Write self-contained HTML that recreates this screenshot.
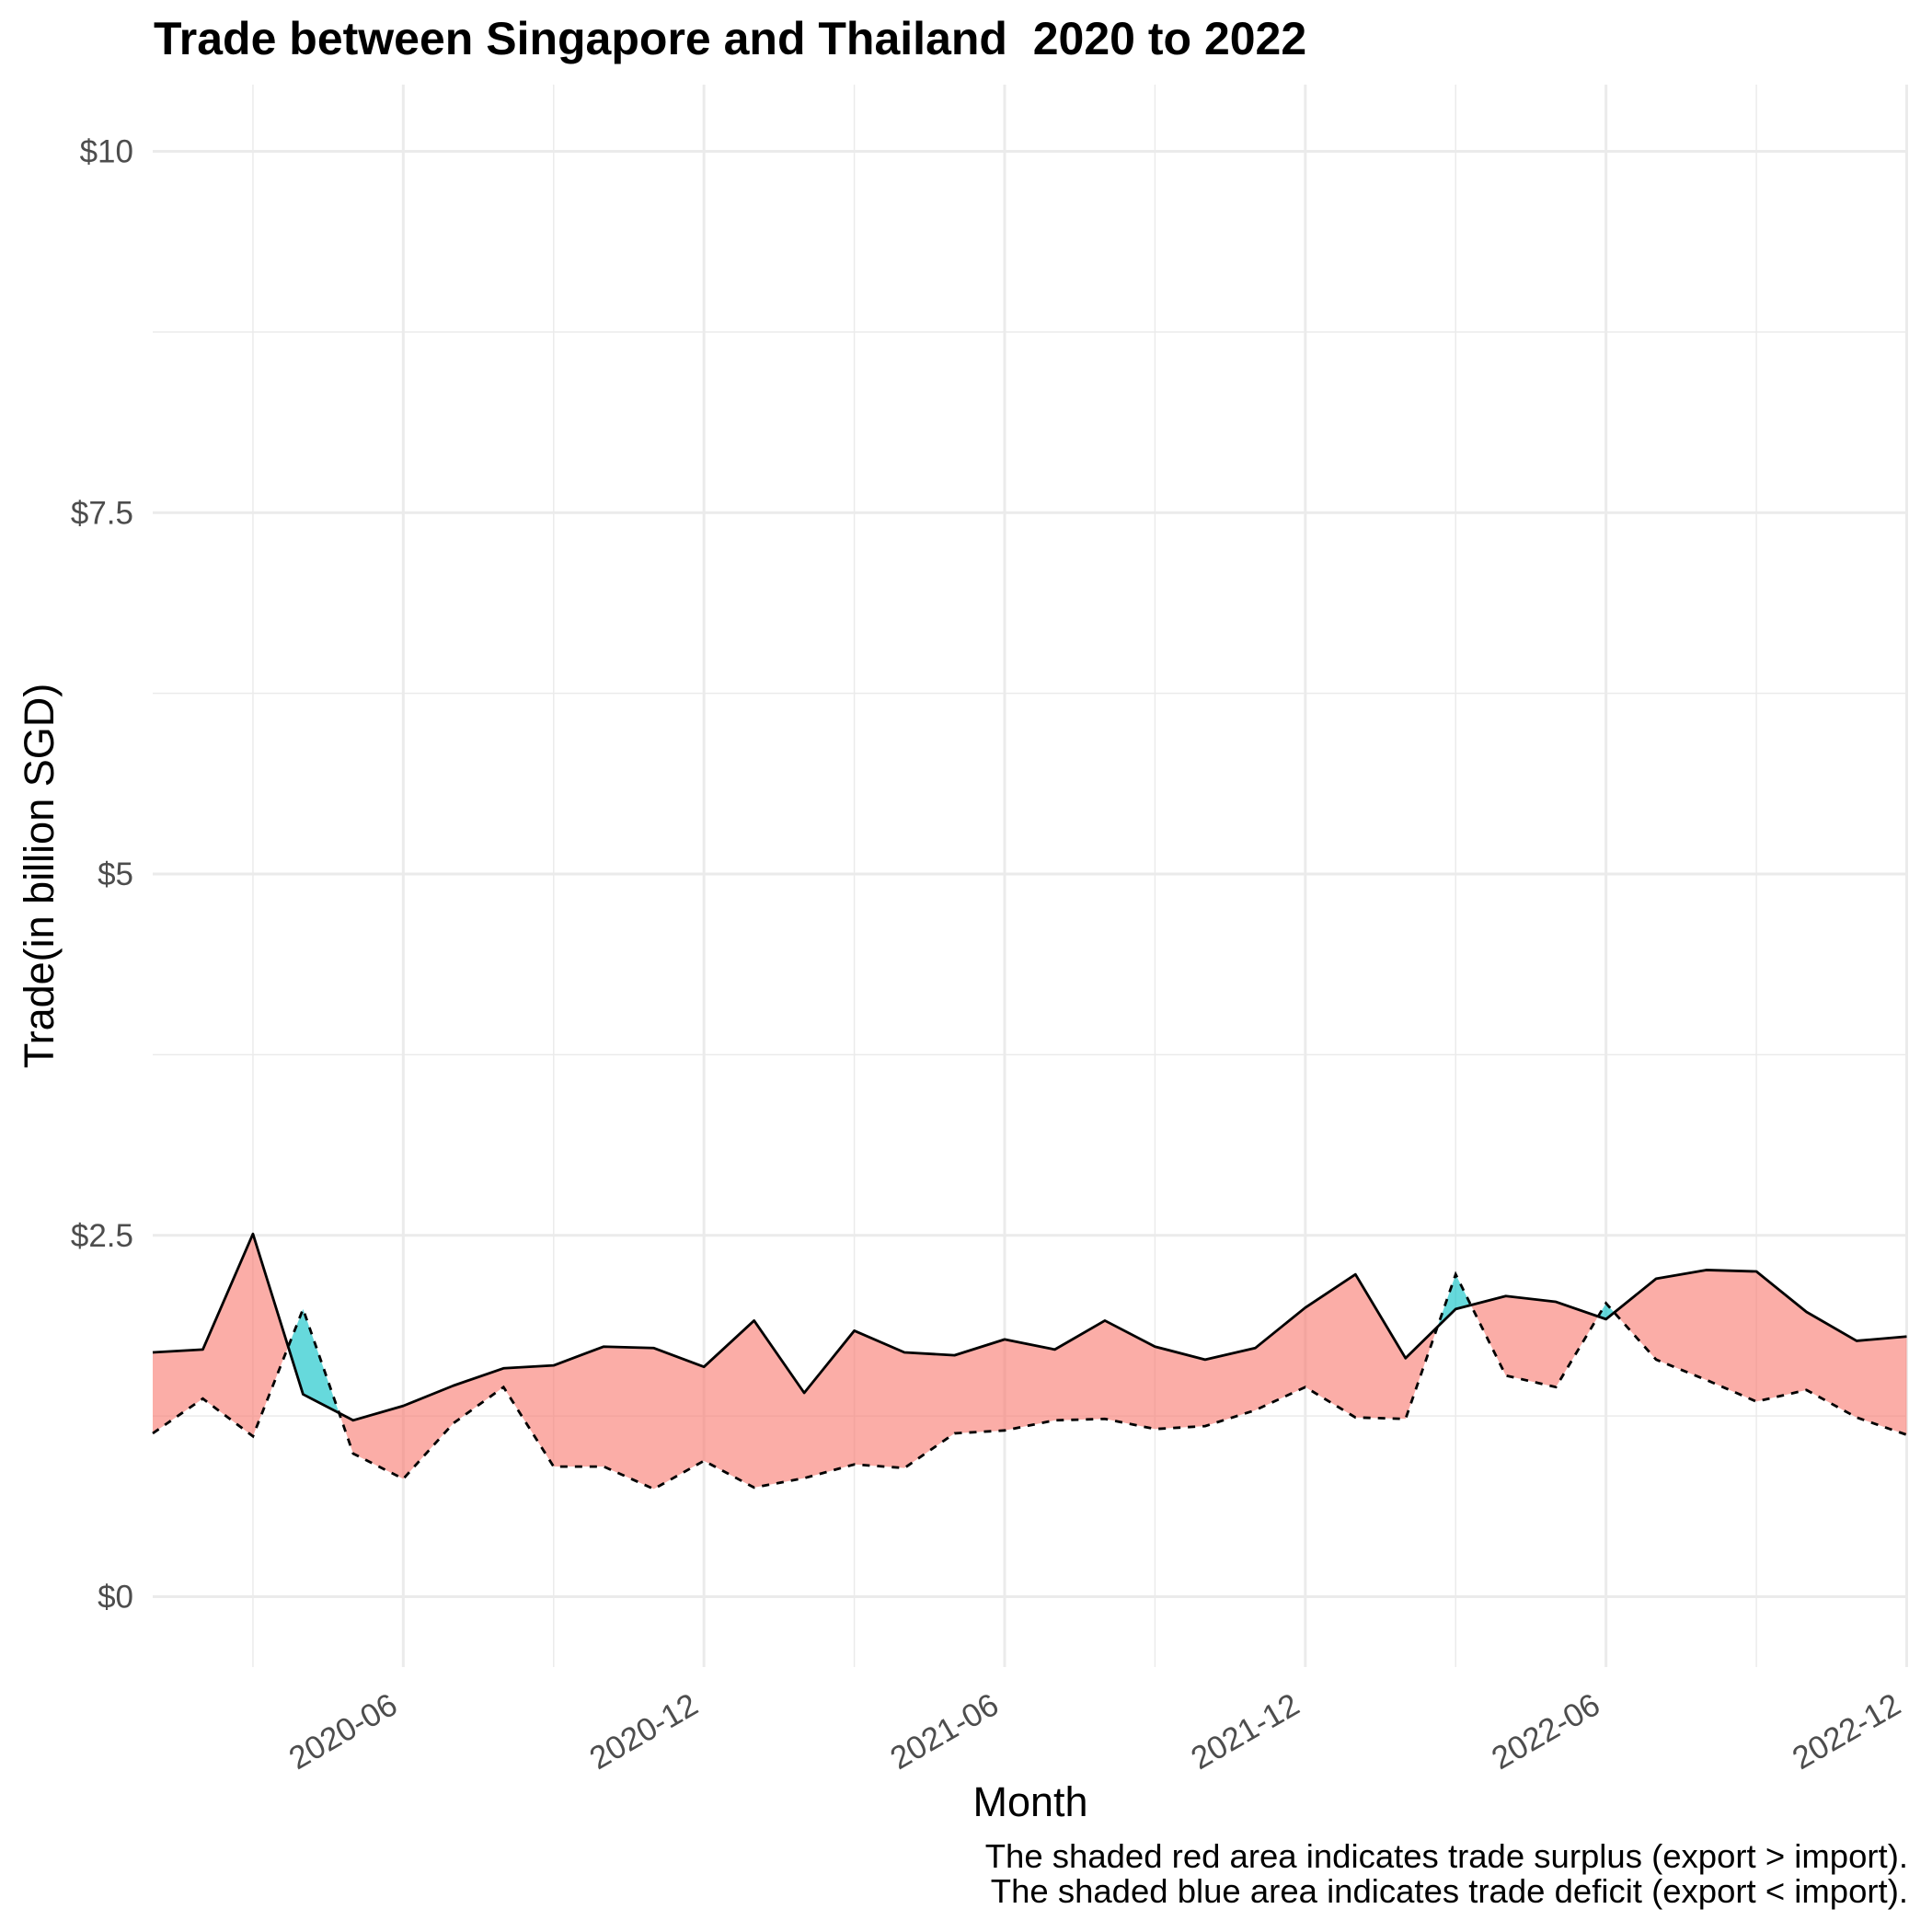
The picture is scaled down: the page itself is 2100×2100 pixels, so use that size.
<!DOCTYPE html>
<html><head><meta charset="utf-8"><style>
html,body{margin:0;padding:0;background:#fff}
svg{display:block;font-family:"Liberation Sans",Arial,sans-serif}
</style></head><body>
<svg id="chart" width="2100" height="2100" viewBox="0 0 2100 2100" xmlns="http://www.w3.org/2000/svg">
<rect width="2100" height="2100" fill="#fff"/>
<text x="167" y="59" font-size="50" font-weight="bold" fill="#000" xml:space="preserve" style="white-space:pre">Trade between Singapore and Thailand  2020 to 2022</text>
<g id="grid"></g>
<g id="areas"></g>
<g id="lines"></g>
<g id="yticks"></g>
<g id="xticks"></g>
<text x="1120" y="1974" font-size="45" text-anchor="middle" fill="#000">Month</text>
<text transform="translate(58,952) rotate(-90)" font-size="45" text-anchor="middle" fill="#000">Trade(in billion SGD)</text>
<text x="2074" y="2030" font-size="36.5" text-anchor="end" fill="#000">The shaded red area indicates trade surplus (export &gt; import).</text>
<text x="2074" y="2068" font-size="36.5" text-anchor="end" fill="#000">The shaded blue area indicates trade deficit (export &lt; import).</text>
</svg>
<script>
const exportVals = [1.69,1.71,2.51,1.40,1.22,1.32,1.46,1.58,1.60,1.73,1.72,1.59,1.91,1.41,1.84,1.69,1.67,1.78,1.71,1.91,1.73,1.64,1.72,2.00,2.23,1.65,1.99,2.08,2.04,1.92,2.20,2.26,2.25,1.97,1.77,1.80];
const importVals = [1.13,1.37,1.11,1.99,0.99,0.815,1.20,1.45,0.90,0.90,0.745,0.94,0.755,0.82,0.915,0.89,1.13,1.15,1.22,1.23,1.16,1.18,1.29,1.45,1.24,1.23,2.23,1.53,1.45,2.03,1.64,1.50,1.35,1.43,1.24,1.12];
const yTickVals = [0,2.5,5,7.5,10];
const yTickLabels = ['$0','$2.5','$5','$7.5','$10'];
const yMinorVals = [1.25,3.75,6.25,8.75];
const xTickIdx = [5,11,17,23,29,35];
const xTickLabels = ['2020-06','2020-12','2021-06','2021-12','2022-06','2022-12'];
const xMinorIdx = [2,8,14,20,26,32];

const NS='http://www.w3.org/2000/svg';
const L=166,R=2074,T=92,B=1812;
const xS=i=>166+i*(2072.5-166)/35;
const yS=v=>1735.5-v*157.1;
function mk(tag,parent,attrs){const e=document.createElementNS(NS,tag);for(const k in attrs)e.setAttribute(k,attrs[k]);parent.appendChild(e);return e;}
const grid=document.getElementById('grid');
yMinorVals.forEach(v=>{const e=mk('line',grid,{x1:L,x2:R,y1:yS(v),y2:yS(v),stroke:'#ebebeb','stroke-width':1.5});

});
xMinorIdx.forEach(i=>{const e=mk('line',grid,{x1:xS(i),x2:xS(i),y1:T,y2:B,stroke:'#ebebeb','stroke-width':1.5});

});
yTickVals.forEach(v=>{const e=mk('line',grid,{x1:L,x2:R,y1:yS(v),y2:yS(v),stroke:'#ebebeb','stroke-width':3});

});
xTickIdx.forEach(i=>{const e=mk('line',grid,{x1:xS(i),x2:xS(i),y1:T,y2:B,stroke:'#ebebeb','stroke-width':3});

});
const yt=document.getElementById('yticks');
yTickVals.forEach((v,k)=>{const e=mk('text',yt,{x:145,y:yS(v)+12,'font-size':35,'text-anchor':'end',fill:'#4d4d4d'});e.textContent=yTickLabels[k];

});
const xt=document.getElementById('xticks');
xTickIdx.forEach((i,k)=>{const x=xS(i)-4,y=1860;const e=mk('text',xt,{x:x,y:y,'font-size':35,'text-anchor':'end',fill:'#4d4d4d',transform:`rotate(-30 ${x} ${y})`});e.textContent=xTickLabels[k];

});
const areas=document.getElementById('areas');
const runs=[];
let cur=null;
function startRun(pos,x,ye,yi){cur={pos:pos,top:[[x,ye]],bot:[[x,yi]]};runs.push(cur);}
{
  const d0=exportVals[0]-importVals[0];
  startRun(d0>=0,xS(0),yS(exportVals[0]),yS(importVals[0]));
}
for(let i=0;i<exportVals.length-1;i++){
  const e0=exportVals[i],e1=exportVals[i+1],m0=importVals[i],m1=importVals[i+1];
  const d0=e0-m0,d1=e1-m1;
  const x0=xS(i),x1=xS(i+1);
  if(d0*d1<0){
    const t=d0/(d0-d1);const xc=x0+t*(x1-x0);const vc=e0+t*(e1-e0);
    cur.top.push([xc,yS(vc)]);cur.bot.push([xc,yS(vc)]);
    startRun(d1>0,xc,yS(vc),yS(vc));
  }
  cur.top.push([x1,yS(e1)]);cur.bot.push([x1,yS(m1)]);
}
runs.forEach(r=>{
  const pts=r.top.concat(r.bot.slice().reverse());
  const e=mk('polygon',areas,{points:pts.map(q=>q.join(',')).join(' '),fill:r.pos?'#F8766D':'#00BFC4','fill-opacity':0.6,stroke:'none'});
  
  
});
const lines=document.getElementById('lines');
const ex=mk('polyline',lines,{points:exportVals.map((v,i)=>xS(i)+','+yS(v)).join(' '),fill:'none',stroke:'#000','stroke-width':2.8,'stroke-linejoin':'round'});


const im=mk('polyline',lines,{points:importVals.map((v,i)=>xS(i)+','+yS(v)).join(' '),fill:'none',stroke:'#000','stroke-width':2.8,'stroke-dasharray':'8 8'});


</script>
</body></html>
